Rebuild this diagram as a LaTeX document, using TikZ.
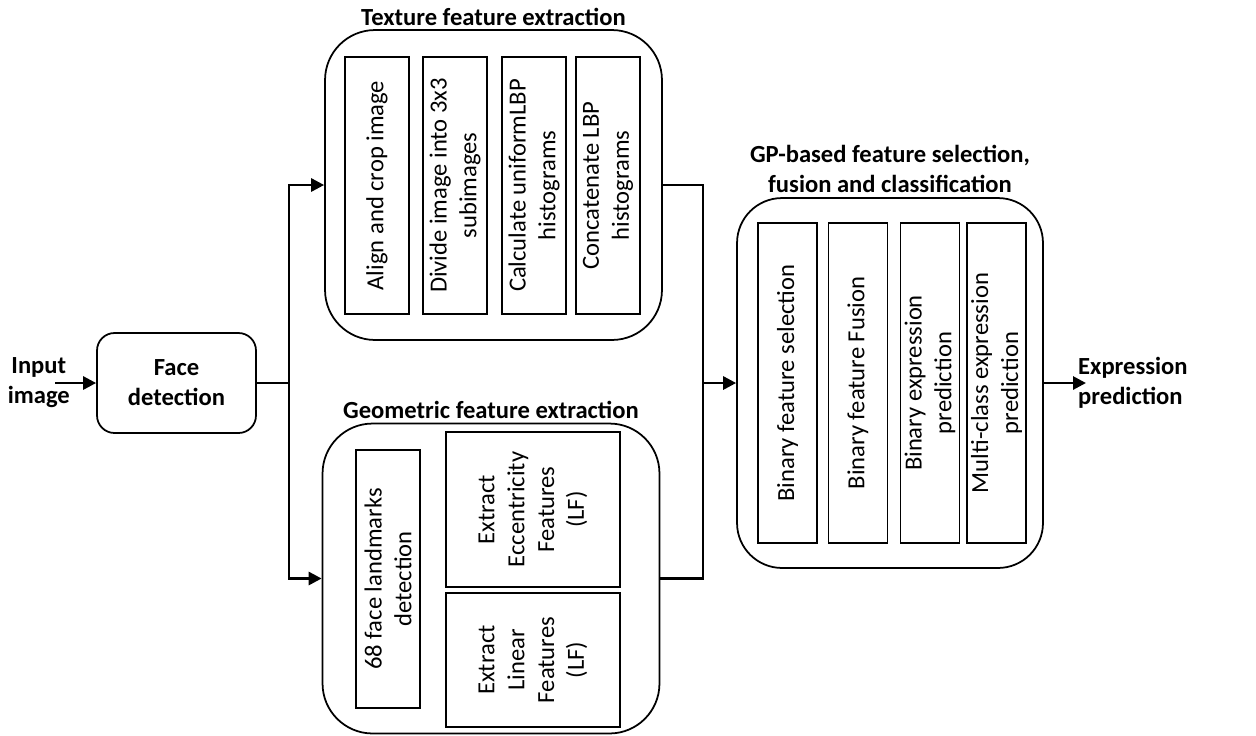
\documentclass[tikz,border=0pt]{standalone}
\usepackage{fontspec}
\setmainfont{Carlito}
\usepackage{tikz}
\usetikzlibrary{
    shapes,
    arrows.meta,
    positioning
}
\tikzset{stage/.style={
    draw,
    line width=1pt,
    minimum width=6.74cm,
    minimum height=6.2cm,
    rounded corners=1cm,
}}
\tikzset{facebox/.style={
    draw,
    line width=1pt,
    minimum width=3.18cm,
    minimum height=2cm,
    rounded corners=.35cm,
    align=center,
    font=\fontsize{14}{17}\selectfont\bfseries,
}}
\tikzset{substep/.style={
    draw,
    line width=0.9pt,
    rotate=90,
    inner sep=0pt,
    align=center,
}}
\tikzset{heading/.style={
    inner sep=0pt,
    align=center,
    font=\fontsize{14}{17}\selectfont\bfseries,
}}
\tikzset{connection/.style={
    line width=1.6pt,
}}
\tikzset{arrow/.style={
    -{Triangle[length=0.26cm,width=0.26cm]},
    line width=1.6pt,
}}

\begin{document}
\begin{tikzpicture}[
                x=0.02cm, y=-0.02cm,
                font=\fontsize{14}{17}\selectfont
        ]
            \useasboundingbox (0,0) rectangle (1256,735);

            \node[facebox] (face) at (176.5,383) {Face\\detection};
            \node[heading, left=0.52cm of face] (input) {Input\\image};

            \node[stage] (tex) at (493.5,185) {};
            \node[heading, above=0.06cm of tex] (tex-title) {Texture feature extraction};
            \node[substep, minimum width=5.14cm, minimum height=1.28cm] (tex1) at (377,185.5) {Align and crop image};
            \node[substep, minimum width=5.14cm, minimum height=1.28cm] (tex2) at (455,185.5) {Divide image into 3x3\\subimages};
            \node[substep, minimum width=5.14cm, minimum height=1.28cm] (tex3) at (534,185.5) {Calculate uniformLBP\\histograms};
            \node[substep, minimum width=5.14cm, minimum height=1.28cm] (tex4) at (608,185.5) {Concatenate LBP\\histograms};

            \node[stage] (geo) at (491,578.5) {};
            \node[heading, above=0.08cm of geo] (geo-title) {Geometric feature extraction};
            \node[substep, minimum width=5.16cm, minimum height=1.28cm] (landmarks) at (388,579) {68 face landmarks\\detection};
            \node[substep, minimum width=3.1cm, minimum height=3.48cm] (ecc) at (533,509.5) {Extract\\Eccentricity\\Features\\(LF)};
            \node[substep, minimum width=2.68cm, minimum height=3.48cm] (lin) at (533,660) {Extract\\Linear\\Features\\(LF)};

            \node[stage, minimum width=6.12cm, minimum height=7.4cm, rounded corners=.9cm] (gp) at (890,383) {};
            \node[heading, above=0.08cm of gp] (gp-title) {GP-based feature selection,\\fusion and classification};
            \node[substep, minimum width=6.4cm, minimum height=1.18cm] (gp1) at (787.5,383) {Binary feature selection};
            \node[substep, minimum width=6.4cm, minimum height=1.18cm] (gp2) at (858,383) {Binary feature Fusion};
            \node[substep, minimum width=6.4cm, minimum height=1.18cm] (gp3) at (930,383) {Binary expression\\prediction};
            \node[substep, minimum width=6.4cm, minimum height=1.18cm] (gp4) at (996.5,383) {Multi-class expression\\prediction};
            \node[heading, align=left, right=0.68cm of gp] (output) {Expression\\prediction};

            \coordinate (in-start) at (55,383);
            \coordinate (split) at (289,383);
            \coordinate (merge) at (703,383);
            \coordinate (out-end) at (1086,383);

            \draw[arrow] (in-start) -- (face);
            \draw[connection] (face) -- (split);
            \draw[arrow] (split) |- (tex.west);
            \draw[arrow] (split) |- (geo.west);
            \draw[connection] (tex.east) -| (merge);
            \draw[connection] (geo.east) -| (merge);
            \draw[arrow] (merge) -- (gp);
            \draw[arrow] (gp) -- (out-end);

        \end{tikzpicture}
\end{document}
